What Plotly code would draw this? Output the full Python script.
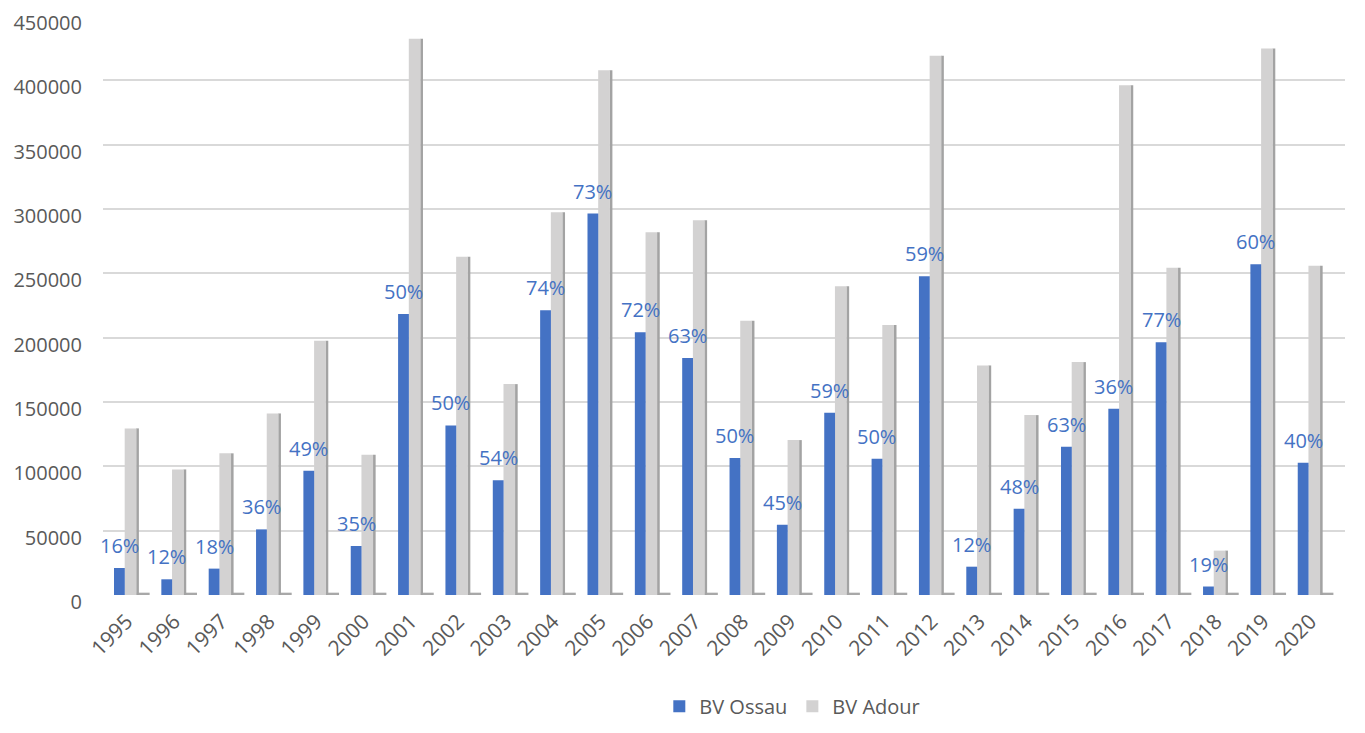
import plotly.graph_objects as go

# ---------------- data ----------------
YEARS = ["1995", "1996", "1997", "1998", "1999", "2000", "2001", "2002", "2003",
         "2004", "2005", "2006", "2007", "2008", "2009", "2010", "2011", "2012",
         "2013", "2014", "2015", "2016", "2017", "2018", "2019", "2020"]
OSSAU = [21000, 12200, 20500, 51000, 96600, 38100, 218300, 131800, 89100,
         221400, 296500, 204300, 184100, 106400, 54600, 141600, 105900, 247800,
         22000, 67000, 115200, 144700, 196500, 6600, 257100, 102800]
ADOUR = [129500, 97600, 110100, 141100, 197600, 109000, 432400, 262800, 163900,
         297500, 407800, 282000, 291300, 213100, 120400, 240000, 209900, 419200,
         178400, 139800, 181000, 396200, 254300, 34500, 424700, 255800]
PCT_LABELS = ["16%", "12%", "18%", "36%", "49%", "35%", "50%", "50%", "54%",
              "74%", "73%", "72%", "63%", "50%", "45%", "59%", "50%", "59%",
              "12%", "48%", "63%", "36%", "77%", "19%", "60%", "40%"]
Y_TICKS = [0, 50000, 100000, 150000, 200000, 250000, 300000, 350000, 400000, 450000]

# ---------------- style ----------------
BLUE = "#4472C4"
GRAY = "#d3d2d2"
GRAY_SIDE = "#a3a3a3"
SHADOW = "#a8a8a8"
TXT = "#595959"
FONT = "Open Sans"
SHADOW_H = 1800

idx = list(range(len(YEARS)))

fig = go.Figure()

# floor shadow (3D look)
fig.add_trace(go.Bar(x=idx, y=[SHADOW_H] * len(idx), offset=0.205, width=0.28,
                     marker=dict(color=SHADOW, line=dict(width=0)),
                     showlegend=False, hoverinfo="skip"))
# gray side face
fig.add_trace(go.Bar(x=idx, y=ADOUR, offset=0.200, width=0.058,
                     marker=dict(color=GRAY_SIDE, line=dict(width=0)),
                     showlegend=False, hoverinfo="skip"))
# gray front
fig.add_trace(go.Bar(x=idx, y=ADOUR, offset=-0.042, width=0.247, name="BV Adour",
                     marker=dict(color=GRAY, line=dict(width=0))))
# blue front
fig.add_trace(go.Bar(x=idx, y=OSSAU, offset=-0.268, width=0.228, name="BV Ossau",
                     marker=dict(color=BLUE, line=dict(width=0))))

annotations = []
for i, v, t in zip(idx, OSSAU, PCT_LABELS):
    annotations.append(dict(x=i - 0.154, y=v, text=t, showarrow=False,
                            xref="x", yref="y", yanchor="bottom", xanchor="center",
                            yshift=7, font=dict(family=FONT, size=20, color=BLUE)))

fig.update_layout(
    width=1349, height=717,
    margin=dict(l=95, r=12, t=8, b=130, autoexpand=False),
    paper_bgcolor="white", plot_bgcolor="white",
    barmode="overlay",
    annotations=annotations,
    font=dict(family=FONT, color=TXT, size=20),
    legend=dict(orientation="h", x=0.555, xanchor="center", y=-0.192, yanchor="middle",
                traceorder="reversed", font=dict(family=FONT, size=20, color=TXT),
                itemsizing="constant"),
    showlegend=True,
)
fig.update_xaxes(range=[-0.5, 25.73], tickmode="array", tickvals=idx, ticktext=YEARS,
                 tickangle=-45, showgrid=False, zeroline=False, showline=False,
                 automargin=False, ticks="", ticklabelstandoff=9,
                 tickfont=dict(family=FONT, size=21, color=TXT))
fig.update_yaxes(range=[0, 450000], tickmode="array", tickvals=Y_TICKS,
                 tickformat="d", showgrid=True, gridcolor="#d9d9d9", gridwidth=1.5,
                 zeroline=False, showline=False, ticks="", ticklabelstandoff=20,
                 ticklabelshift=7,
                 automargin=False, ticklabeloverflow="allow",
                 tickfont=dict(family=FONT, size=20, color=TXT))

fig.write_html("out.html")
